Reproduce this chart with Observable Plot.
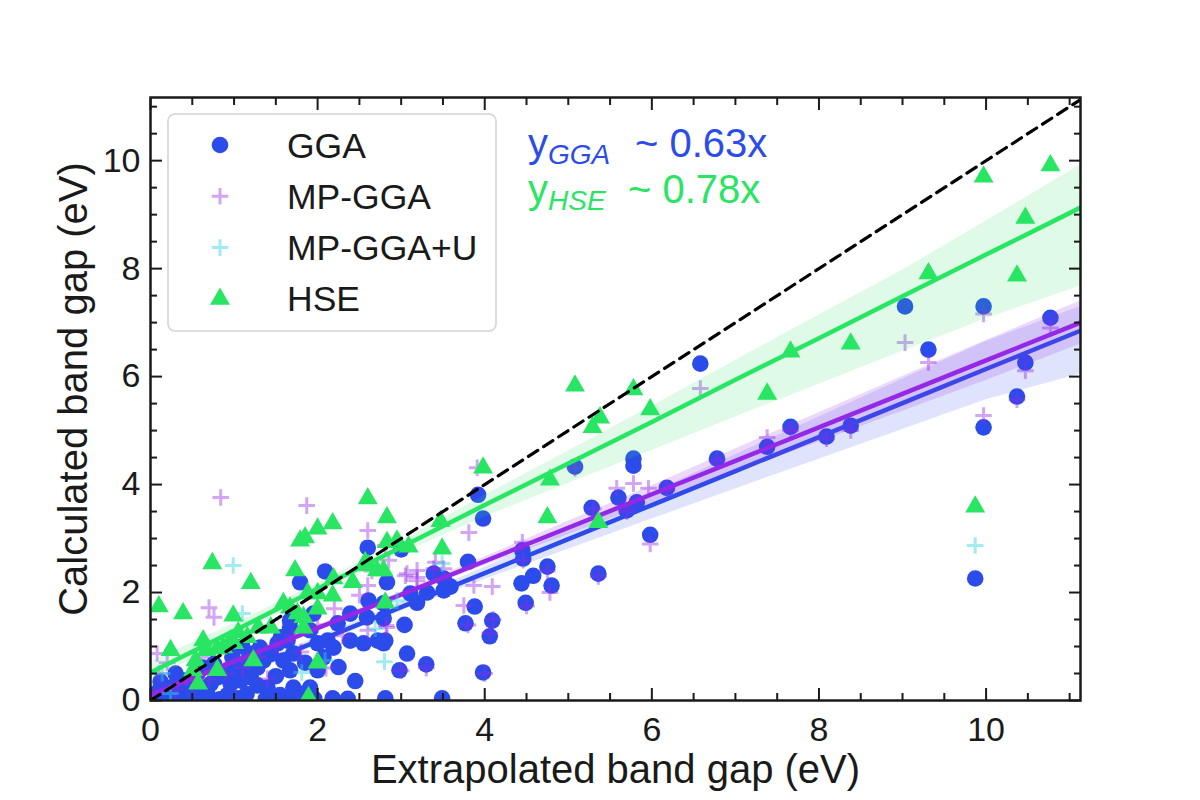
<!DOCTYPE html>
<html>
<head>
<meta charset="utf-8">
<script src="https://cdn.jsdelivr.net/npm/d3@7"></script>
<script src="https://cdn.jsdelivr.net/npm/@observablehq/plot@0.6"></script>
<style>
  body { margin: 0; background: #fff; font-family: "Liberation Sans", Arial, sans-serif; }
  #wrap { position: relative; width: 1200px; height: 800px; overflow: hidden; }
  #wrap > svg.overlay { position: absolute; left: 0; top: 0; pointer-events: none; }
</style>
</head>
<body>
<div id="wrap"></div>
<script>
// ---------- data ----------
const seriesNames = ["GGA", "MP-GGA", "MP-GGA+U", "HSE"];
const seriesColors = ["#2b4ceb", "#9428e6", "#2fd3df", "#29e564"];

const ggaPoints = [
  [9.03,7.30],[9.97,7.30],[10.77,7.09],[9.31,6.50],[10.47,6.26],[10.37,5.63],[9.97,5.06],[7.66,5.07],[7.38,4.70],[8.09,4.89],[8.38,5.09],[9.87,2.26],
  [6.58,6.24],[5.08,4.33],[5.78,4.48],[5.78,4.35],[3.92,3.81],[3.98,3.37],[5.28,3.57],[5.60,3.76],[5.82,3.67],[5.70,3.52],[6.18,3.94],[5.98,3.07],[6.78,4.48],
  [4.45,2.78],[4.46,2.63],[3.80,2.57],[5.36,2.35],[4.75,2.48],[4.58,2.31],[4.44,2.17],[4.80,2.13],[4.49,1.81],[3.88,1.74],[3.77,1.43],[4.09,1.48],[4.06,1.19],
  [3.39,2.35],[3.51,2.26],[3.59,2.11],[3.11,1.98],[3.19,1.81],[3.04,1.40],[2.81,1.11],[3.07,0.87],[2.98,0.56],[3.30,0.67],[3.98,0.52],[2.81,0.04],[3.49,0.04],
  [3.00,2.80],[2.60,2.83],[2.09,2.39],[1.79,2.19],[2.83,2.19],[2.61,1.85],[2.79,1.80],[3.31,2.00],[3.51,2.04],
  [2.59,1.54],[2.79,1.52],[2.24,1.43],[2.39,1.61],[1.95,1.61],[1.91,1.30],[1.67,1.35],[1.64,1.11],[1.71,0.87],[1.59,0.74],[1.67,0.56],
  [2.00,1.06],[2.12,1.11],[2.19,0.98],[2.07,0.80],[2.00,0.56],[1.91,0.24],[2.39,1.11],[2.55,1.06],[2.72,1.11],[2.79,1.06],
  [1.52,1.06],[1.44,0.87],[1.35,0.74],[1.28,0.61],[1.20,0.43],[1.08,0.37],[0.96,0.31],[0.92,0.56],[0.80,0.43],[0.72,0.31],[1.28,0.28],[1.40,0.24],[1.71,0.24],[1.79,0.13],
  [0.63,0.61],[0.56,0.50],[0.44,0.37],[0.36,0.28],[0.24,0.24],[0.16,0.19],[0.08,0.15],
  [0.20,0.02],[0.49,0.03],[0.83,0.02],[1.04,0.04],[1.38,0.03],[1.70,0.03],[1.96,0.03],[2.18,0.04],[2.36,0.03],
  [1.31,0.98],[1.56,1.17],[1.67,1.48],[0.60,0.24],[0.68,0.13],[1.04,0.61],[1.16,0.74],[1.23,0.87],[0.39,0.37],[0.51,0.43],
  [0.32,0.06],[0.64,0.06],[0.44,0.12],[0.92,0.10],[1.15,0.12],[1.55,0.10],[0.76,0.68],[0.98,0.80],[1.10,1.00],[0.30,0.50],
  [1.85,0.70],[2.25,0.62],[2.45,0.36],[1.50,0.45],[0.12,0.35]
];

const mpGgaPoints = [
  [0.84,3.76],[1.87,3.61],[2.60,3.15],[9.03,6.63],[9.97,7.16],[10.77,6.90],[9.31,6.26],[10.47,6.11],[10.37,5.57],[9.97,5.28],[6.58,5.78],
  [7.38,4.87],[8.38,5.00],[8.09,4.85],[7.66,5.00],[5.08,4.30],[5.78,4.02],[5.96,3.93],[5.58,3.93],[5.98,2.90],[4.45,2.93],[3.81,3.11],[3.91,4.31],
  [3.07,2.35],[3.19,2.28],[3.39,2.44],[3.51,2.44],[3.87,2.13],[4.09,2.11],[3.75,1.76],[4.78,2.00],[2.82,1.39],[3.41,2.56],[3.19,2.41],[3.05,2.31],[3.19,2.22],
  [2.60,2.13],[2.83,1.35],[0.70,1.72],[0.76,1.54],[0.08,0.87],[0.10,0.50],[4.46,2.60],[4.75,2.40],[5.36,2.30],[4.00,0.50],[3.30,0.60],[3.00,0.55],
  [4.06,1.25],[3.80,1.40],[4.10,1.50],[4.50,1.75],[5.70,3.50],[5.30,3.55],[6.18,3.90],[6.78,4.45],[2.65,2.40],[2.50,1.95],[2.20,1.70],[2.00,1.40],
  [1.70,1.20],[1.50,1.00],[1.30,0.80],[1.10,0.60],[0.90,0.50],[0.70,0.40],[0.50,0.30],[0.30,0.20],[2.30,1.20],[2.60,1.30],[1.80,0.90],[2.10,0.60],
  [1.40,0.40],[0.60,0.80],[0.20,0.70],[2.85,2.60],[2.81,2.87]
];

const mpGgaUPoints = [
  [9.87,2.87],[3.49,2.54],[0.99,2.50],[2.80,0.72],[1.81,0.52],[2.69,1.33],[2.09,0.74],[0.24,0.13],[0.14,0.50],[1.10,1.61],[2.95,1.85]
];

const hsePoints = [
  [10.77,9.91],[9.97,9.70],[10.47,8.94],[10.37,7.87],[9.31,7.91],[7.66,6.46],[8.38,6.61],[7.38,5.68],[9.87,3.59],
  [5.08,5.83],[5.78,5.76],[5.98,5.39],[5.38,5.24],[5.29,5.06],[3.98,4.31],[4.78,4.09],[3.47,3.32],[4.75,3.39],[5.36,3.30],[3.49,2.81],[3.09,2.85],
  [2.60,3.74],[2.83,3.39],[2.18,3.28],[2.00,3.18],[1.79,2.96],[1.85,3.02],[2.95,2.96],[2.83,2.93],[1.73,2.41],[2.19,2.26],[1.20,2.17],[0.74,2.54],
  [0.10,1.74],[0.39,1.61],[2.57,2.56],[2.71,2.41],[2.79,2.41],[2.61,2.50],[2.81,1.81],[2.18,1.94],[2.00,1.98],[1.88,1.98],[1.59,1.80],[1.67,1.72],
  [1.76,1.61],[1.83,1.54],[1.44,1.35],[1.29,1.35],[0.99,1.57],[1.00,1.06],[1.05,1.26],[0.96,1.11],[0.63,1.11],[0.67,0.93],[0.24,0.93],[0.87,0.98],
  [0.80,0.96],[1.16,1.17],[1.23,0.74],[2.00,0.70],[0.54,0.74],[0.51,0.56],[0.57,0.31],[0.80,0.56],[1.89,0.06],[1.83,1.35],[2.00,1.70],[2.42,2.19]
];

// regression lines and confidence bands, read at these x positions
const fitX   = [0, 1, 2, 3, 4, 5, 6, 7, 8, 9, 10, 11.13];
const ggaFit = [-0.16, 0.47, 1.10, 1.73, 2.36, 2.99, 3.62, 4.25, 4.88, 5.51, 6.14, 6.85];
const ggaLo  = [-0.30, 0.38, 1.03, 1.66, 2.24, 2.80, 3.36, 3.92, 4.47, 5.02, 5.57, 6.05];
const ggaHi  = [0.00, 0.56, 1.17, 1.81, 2.47, 3.15, 3.85, 4.55, 5.25, 5.95, 6.65, 7.30];
const mpFit  = [0.10, 0.72, 1.34, 1.96, 2.58, 3.20, 3.82, 4.44, 5.06, 5.68, 6.30, 7.00];
const mpLo   = [0.00, 0.66, 1.29, 1.91, 2.50, 3.07, 3.65, 4.22, 4.79, 5.36, 5.93, 6.60];
const mpHi   = [0.20, 0.79, 1.39, 2.01, 2.66, 3.32, 3.98, 4.66, 5.33, 6.00, 6.67, 7.40];
const hseFit = [0.52, 1.29, 2.07, 2.84, 3.62, 4.39, 5.16, 5.94, 6.71, 7.49, 8.26, 9.13];
const hseLo  = [0.36, 1.17, 1.97, 2.72, 3.40, 4.02, 4.63, 5.25, 5.86, 6.47, 7.07, 7.68];
const hseHi  = [0.72, 1.42, 2.17, 2.95, 3.80, 4.62, 5.45, 6.30, 7.14, 7.97, 8.88, 9.92];

const identityExtent = [0, 11.13];
const xDomain = [0, 11.13];
const yDomain = [0, 11.17];
const majorTicks = [0, 2, 4, 6, 8, 10];
const minorTicks = [0.5, 1, 1.5, 2.5, 3, 3.5, 4.5, 5, 5.5, 6.5, 7, 7.5, 8.5, 9, 9.5, 10.5, 11];

const xLabel = "Extrapolated band gap (eV)";
const yLabel = "Calculated band gap (eV)";
const annotations = [
  {name: "GGA", slope: "0.63x", color: seriesColors[0]},
  {name: "HSE", slope: "0.78x", color: seriesColors[3]}
];

// ---------- build ----------
const pts = a => a.map(([x, y]) => ({x, y}));
const band = (lo, hi, fit) => fitX.map((x, i) => ({x, lo: lo[i], hi: hi[i], y: fit[i]}));
const font = "'Liberation Sans', Arial, sans-serif";
const ink = "#1a1a1a";
const intFmt = d => String(d);
const blankFmt = () => "";
const plusR = 5.4;

const plot = Plot.plot({
  width: 1200,
  height: 800,
  marginLeft: 150,
  marginRight: 120,
  marginTop: 97,
  marginBottom: 100,
  style: {fontFamily: font, background: "transparent", color: ink, overflow: "visible"},
  x: {domain: xDomain},
  y: {domain: yDomain},
  marks: [
    // GGA
    Plot.dot(pts(ggaPoints), {x: "x", y: "y", r: 8.3, fill: seriesColors[0], stroke: "none", clip: true}),
    Plot.areaY(band(ggaLo, ggaHi, ggaFit), {x: "x", y1: "lo", y2: "hi", fill: seriesColors[0], fillOpacity: 0.15, clip: true}),
    Plot.line(band(ggaLo, ggaHi, ggaFit), {x: "x", y: "y", stroke: seriesColors[0], strokeWidth: 4.5, clip: true}),
    // MP-GGA
    Plot.dot(pts(mpGgaPoints), {x: "x", y: "y", r: plusR, symbol: "plus", stroke: seriesColors[1], strokeOpacity: 0.42, strokeWidth: 3, clip: true}),
    Plot.areaY(band(mpLo, mpHi, mpFit), {x: "x", y1: "lo", y2: "hi", fill: seriesColors[1], fillOpacity: 0.18, clip: true}),
    Plot.line(band(mpLo, mpHi, mpFit), {x: "x", y: "y", stroke: seriesColors[1], strokeWidth: 4.5, clip: true}),
    // MP-GGA+U
    Plot.dot(pts(mpGgaUPoints), {x: "x", y: "y", r: plusR, symbol: "plus", stroke: seriesColors[2], strokeOpacity: 0.45, strokeWidth: 3, clip: true}),
    // HSE
    Plot.dot(pts(hsePoints), {x: "x", y: "y", r: 7.4, symbol: "triangle", fill: seriesColors[3], stroke: "none", clip: true}),
    Plot.areaY(band(hseLo, hseHi, hseFit), {x: "x", y1: "lo", y2: "hi", fill: seriesColors[3], fillOpacity: 0.15, clip: true}),
    Plot.line(band(hseLo, hseHi, hseFit), {x: "x", y: "y", stroke: seriesColors[3], strokeWidth: 4.5, clip: true}),
    // y = x
    Plot.line(identityExtent.map(v => ({x: v, y: v})), {x: "x", y: "y", stroke: "#000", strokeWidth: 3.2, strokeDasharray: "11,7", clip: true}),
    // axes
    Plot.axisX(majorTicks, {anchor: "bottom", tickSize: -12, tickPadding: 28, fontSize: 34, tickFormat: intFmt, strokeWidth: 2, label: null}),
    Plot.axisX(minorTicks, {anchor: "bottom", tickSize: -7, tickFormat: blankFmt, strokeWidth: 2, label: null}),
    Plot.axisX(majorTicks, {anchor: "top", tickSize: -12, tickFormat: blankFmt, strokeWidth: 2, label: null}),
    Plot.axisX(minorTicks, {anchor: "top", tickSize: -7, tickFormat: blankFmt, strokeWidth: 2, label: null}),
    Plot.axisY(majorTicks, {anchor: "left", tickSize: -12, tickPadding: 22, fontSize: 34, tickFormat: intFmt, strokeWidth: 2, label: null}),
    Plot.axisY(minorTicks, {anchor: "left", tickSize: -7, tickFormat: blankFmt, strokeWidth: 2, label: null}),
    Plot.axisY(majorTicks, {anchor: "right", tickSize: -12, tickFormat: blankFmt, strokeWidth: 2, label: null}),
    Plot.axisY(minorTicks, {anchor: "right", tickSize: -7, tickFormat: blankFmt, strokeWidth: 2, label: null}),
    Plot.frame({stroke: ink, strokeWidth: 2.5}),
    // axis titles
    Plot.text([xLabel], {frameAnchor: "bottom", dy: 70, text: d => d, fontSize: 40, fill: ink, lineAnchor: "middle", textAnchor: "middle"}),
    Plot.text([yLabel], {frameAnchor: "left", dx: -76, dy: -10, rotate: -90, text: d => d, fontSize: 40, fill: ink, lineAnchor: "middle", textAnchor: "middle"})
  ]
});

const wrap = document.getElementById("wrap");
wrap.appendChild(plot);

// ---------- overlay: legend & fit annotations ----------
const ov = d3.select(wrap).append("svg")
  .attr("class", "overlay")
  .attr("width", 1200).attr("height", 800)
  .style("font-family", font);

const lg = ov.append("g").attr("transform", "translate(168,114)");
lg.append("rect")
  .attr("width", 328).attr("height", 217).attr("rx", 7)
  .attr("fill", "#fff").attr("fill-opacity", 0.85)
  .attr("stroke", "#d4d4d4").attr("stroke-width", 1.6);

const legendSymbols = [
  {type: d3.symbolCircle, r: 8.3, fill: seriesColors[0]},
  {type: d3.symbolPlus, r: plusR, stroke: seriesColors[1], opacity: 0.42},
  {type: d3.symbolPlus, r: plusR, stroke: seriesColors[2], opacity: 0.45},
  {type: d3.symbolTriangle, r: 7.4, fill: seriesColors[3]}
];
seriesNames.forEach((name, i) => {
  const cy = 31 + i * 51.3;
  const s = legendSymbols[i];
  const p = lg.append("path")
    .attr("transform", `translate(52,${cy})`)
    .attr("d", d3.symbol(s.type, Math.PI * s.r * s.r)());
  if (s.fill) p.attr("fill", s.fill);
  else p.attr("fill", "none").attr("stroke", s.stroke).attr("stroke-opacity", s.opacity).attr("stroke-width", 3);
  lg.append("text")
    .attr("x", 119).attr("y", cy + 12.5)
    .attr("font-size", 35.5).attr("fill", ink)
    .text(name);
});

annotations.forEach((a, i) => {
  const y = 157 + i * 46;
  const t = ov.append("text").attr("x", 528).attr("y", y).attr("fill", a.color).attr("font-size", 40);
  t.append("tspan").text("y");
  t.append("tspan").attr("font-style", "italic").attr("font-size", 28).attr("dy", 7).text(a.name);
  ov.append("text").attr("x", i === 0 ? 635 : 628).attr("y", y).attr("fill", a.color).attr("font-size", 40)
    .text("~ " + a.slope);
});
</script>
</body>
</html>
